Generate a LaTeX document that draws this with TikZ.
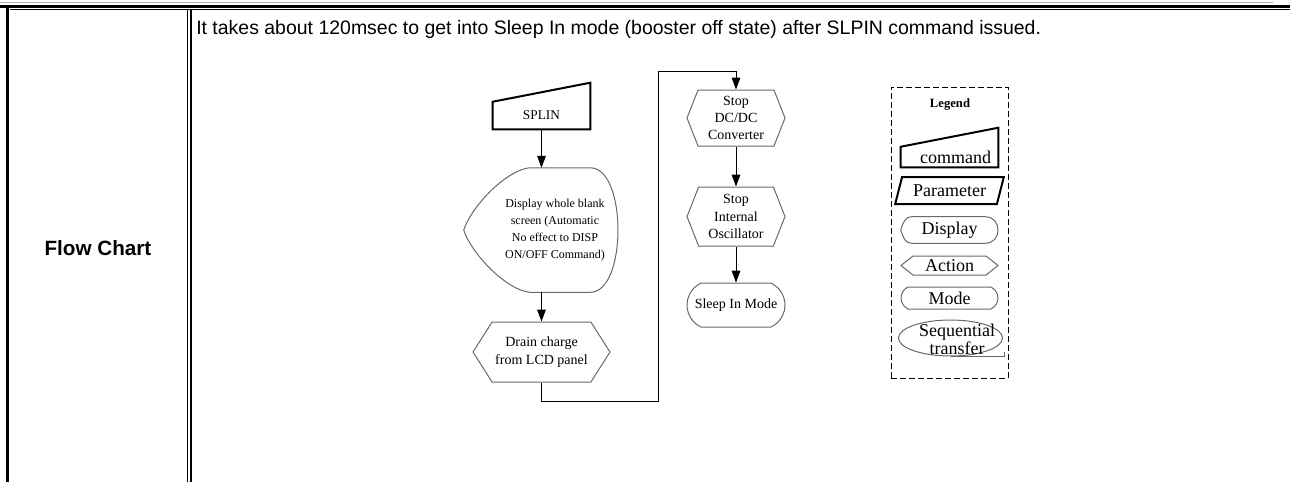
\documentclass[tikz,border=0pt]{standalone}
\usepackage{fontspec}
\setmainfont{Liberation Serif}
\newfontfamily\arialfont{Liberation Sans}
\usepackage{xcolor}
\usetikzlibrary{shapes.geometric,shapes.symbols,shapes.misc,arrows.meta,positioning}
\definecolor{chart-gray}{RGB}{105,105,105}
\definecolor{rule-gray}{RGB}{175,175,175}

\begin{document}
\begin{tikzpicture}[x=0.75pt, y=-0.75pt,
    outline/.style={draw=chart-gray, line width=0.75pt},
    heavy/.style={draw=black, line width=1.5pt},
    chartfont/.style={font=\fontsize{10.5}{13}\selectfont},
    legendfont/.style={font=\fontsize{13.5}{12}\selectfont},
    holder/.style={inner sep=0pt, align=center},
    action/.style={signal, signal to=west and east, outline, holder},
    mode/.style={rounded rectangle, rounded rectangle arc length=130, outline, holder},
    flow/.style={-{Triangle[length=9pt,width=6.5pt]}, line width=0.75pt}]
    \useasboundingbox (0,0) rectangle (1290,482);

    % Table frame
    \draw[rule-gray, line width=0.75pt] (0,2) -- (1273,2);
    \draw[line width=2.25pt] (0,6.5) -- (1290,6.5);
    \draw[line width=0.75pt] (10,9.8) -- (1290,9.8);
    \draw[line width=2.25pt] (7.5,5.4) -- (7.5,482);
    \draw[line width=1.1pt] (187.3,10) -- (187.3,482);
    \draw[line width=1.5pt] (190.8,10) -- (190.8,482);

    % Row title and note
    \node[font=\arialfont\bfseries\fontsize{15.5}{18}\selectfont] (rowtitle) at (98,248) {Flow Chart};
    \node[anchor=west, inner sep=0pt, font=\arialfont\fontsize{14.6}{17}\selectfont] (note) at (196,29) {It takes about 120msec to get into Sleep In mode (booster off state) after SLPIN command issued.};

    % Left column
    \node[holder, minimum width=72.75pt, minimum height=20.25pt, font=\fontsize{10}{12}\selectfont] (splin) at (541.5,115.5) {SPLIN};
    \draw[heavy] (splin.south west) -- (splin.north west) -- ([yshift=14.25pt]splin.north east) -- (splin.south east) -- cycle;
    \node[holder, minimum width=94.5pt, minimum height=93pt, font=\fontsize{9}{12.75}\selectfont, below of=splin, node distance=85.9pt, xshift=10.1pt] (disp) {Display whole blank\\screen (Automatic\\No effect to DISP\\ON/OFF Command)};
    \draw[outline] ([xshift=-21pt]disp.west) .. controls +(9,-26) and +(-22,2) .. ([xshift=28.5pt]disp.north west)
        -- ([xshift=-21pt]disp.north east) .. controls +(37,0) and +(37,0) .. ([xshift=-21pt]disp.south east)
        -- ([xshift=28.5pt]disp.south west) .. controls +(-22,-2) and +(9,26) .. ([xshift=-21pt]disp.west);
    \node[action, chartfont, minimum width=102.75pt, minimum height=45pt, signal pointer angle=115, below of=splin, node distance=177.4pt] (drain) {Drain charge\\from LCD panel};

    % Right column
    \node[action, chartfont, minimum width=73.5pt, minimum height=42pt, signal pointer angle=137] (dcdc) at (736,118) {Stop\\DC/DC\\Converter};
    \node[action, chartfont, minimum width=73.5pt, minimum height=44.25pt, signal pointer angle=137, below of=dcdc, node distance=73.9pt] (osc) {Stop\\Internal\\Oscillator};
    \node[mode, chartfont, minimum width=73.5pt, minimum height=33pt, below of=osc, node distance=66.4pt] (sleep) {Sleep In Mode};

    % Connections
    \coordinate (bendlow) at (658,401);
    \coordinate (bendhigh) at (658,71);
    \draw[flow] (splin.south) -- (splin.south |- disp.north);
    \draw[flow] (splin.south |- disp.south) -- (drain.north);
    \draw[flow] (drain.south) |- (bendlow) -- (bendhigh) -| (dcdc.north);
    \draw[flow] (dcdc.south) -- (osc.north);
    \draw[flow] (osc.south) -- (sleep.north);

    % Legend
    \node[draw, dashed, dash pattern=on 4.5pt off 2.25pt, line width=0.75pt, minimum width=87.75pt, minimum height=218.25pt] (legendbox) at (949.5,232.5) {};
    \node[font=\bfseries\fontsize{9.5}{11}\selectfont] (legendtitle) at (950,105) {Legend};
    \node[holder, legendfont, minimum width=72.75pt, minimum height=15pt] (lgcmd) at (949.5,157) {\hspace*{9pt}command};
    \draw[heavy] (lgcmd.south west) -- (lgcmd.north west) -- ([yshift=14.25pt]lgcmd.north east) -- (lgcmd.south east) -- cycle;
    \node[trapezium, trapezium left angle=66, trapezium right angle=114, trapezium stretches=true, heavy, holder, legendfont, minimum width=81.75pt, minimum height=20.25pt] (lgparam) at (949.5,190.5) {Parameter};
    \node[holder, legendfont, minimum width=72.75pt, minimum height=19.5pt] (lgdisp) at (949.5,230) {Display};
    \draw[outline] (lgdisp.west) .. controls +(3,-9) and +(-6,0) .. ([xshift=8.25pt]lgdisp.north west)
        -- ([xshift=-9.75pt]lgdisp.north east) .. controls +(17,0) and +(17,0) .. ([xshift=-9.75pt]lgdisp.south east)
        -- ([xshift=8.25pt]lgdisp.south west) .. controls +(-6,0) and +(3,9) .. (lgdisp.west);
    \node[action, legendfont, minimum width=72.75pt, minimum height=14.25pt, signal pointer angle=77] (lgaction) at (949.5,265.5) {Action};
    \node[mode, legendfont, minimum width=72.75pt, minimum height=16.5pt] (lgmode) at (949.5,298) {Mode};
    \node[ellipse, outline, minimum width=78pt, minimum height=27pt] (lgseq) at (950.5,338) {};
    \draw[outline] (lgseq.south) -- ++(53.5,0) -- ++(0,-5);
    \node[holder, font=\fontsize{13.5}{8.5}\selectfont] (lgseqtext) at (957,339) {Sequential\\transfer};
\end{tikzpicture}
\end{document}
